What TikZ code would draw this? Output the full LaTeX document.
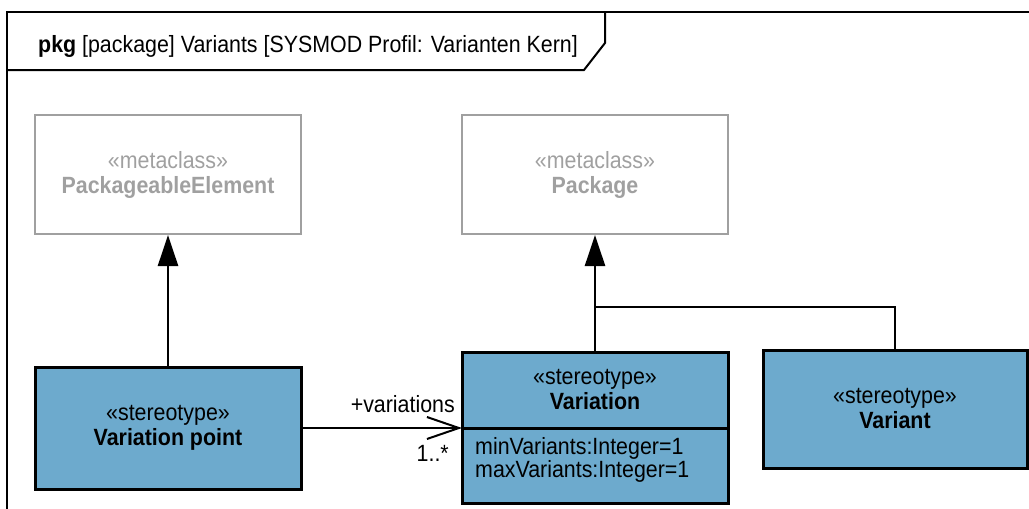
\documentclass[tikz,border=0pt]{standalone}
\usepackage{fontspec}
\setmainfont{Liberation Sans}[FakeStretch=0.91]
\usetikzlibrary{arrows.meta, positioning}

\definecolor{stereoblue}{RGB}{109,170,205}
\definecolor{metagray}{RGB}{160,160,160}

\tikzset{
  metabox/.style={rectangle, draw=metagray, line width=2pt, text=metagray, minimum width=266pt, minimum height=119pt, align=center},
  stereobox/.style={rectangle, draw, fill=stereoblue, line width=3pt, outer sep=0pt, align=center},
  generalize/.style={-{Triangle[length=31pt,width=20pt]}, line width=2.5pt},
  assoc/.style={-{Straight Barb[length=32pt,width=22pt]}, line width=2pt},
}

\begin{document}
\begin{tikzpicture}[x=1pt, y=-1pt, font=\fontsize{23.5}{25}\selectfont]
\clip (0,0) rectangle (1029,509);
% frame and title tab
\draw[line width=2pt] (7,12) rectangle (1060,540);
\draw[line width=2pt] (7,70) -- (584,70) -- (605,43) -- (605,12);
\node[anchor=base west, inner sep=0pt] (title) at (38,52) {\textbf{pkg} [package] Variants [SYSMOD Profil: Varianten Kern]};

% metaclasses
\node[metabox] (pe) at (168,174.5) {«metaclass»\\\textbf{PackageableElement}};
\node[metabox] (pkg) at (595,174.5) {«metaclass»\\\textbf{Package}};

% stereotypes
\node[stereobox, minimum width=266pt, minimum height=122pt] (vp) at (168,428) {«stereotype»\\\textbf{Variation point}};
\node[stereobox, minimum width=266pt, minimum height=76pt] (varhead) at (595,390) {«stereotype»\\\textbf{Variation}};
\node[stereobox, minimum width=266pt, minimum height=75pt] (varattr) at (595,465.5) {};
\node[anchor=north west, inner sep=0pt, align=left, font=\fontsize{23.5}{20}\selectfont] (attrs) at (475,437) {minVariants:Integer=1\\maxVariants:Integer=1};
\node[stereobox, minimum width=264pt, minimum height=118pt] (vnt) at (895,409) {«stereotype»\\\textbf{Variant}};

% generalizations
\draw[generalize] (vp) -- (pe);
\draw[generalize] (varhead) -- (pkg);
\coordinate (join) at (595,307);
\draw[line width=2pt] (vnt.north) |- (join);

% association
\draw[assoc] (vp.east) -- (varhead.south west);
\node[anchor=east, inner sep=0pt] (rolename) at (455,404) {+variations};
\node[anchor=east, inner sep=0pt] (mult) at (449,453) {1..*};
\end{tikzpicture}
\end{document}
